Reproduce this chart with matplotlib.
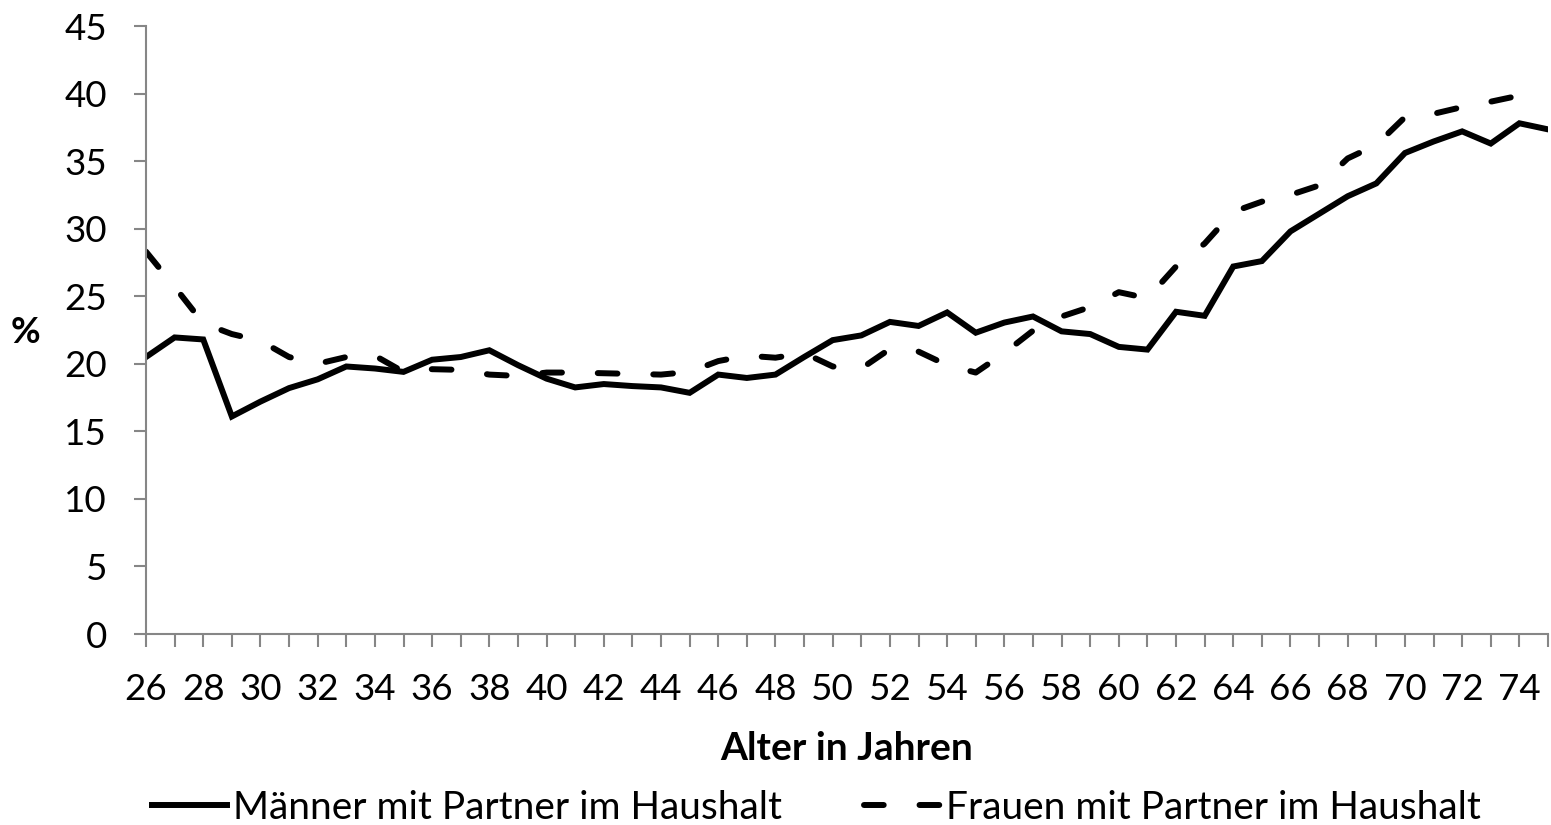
import numpy as np
import matplotlib
matplotlib.use('Agg')
import matplotlib.pyplot as plt

plt.rcParams['font.family'] = ['Lato', 'DejaVu Sans']

ages = list(range(26, 76))

maenner = [20.5, 21.95, 21.8, 16.1, 17.2, 18.2, 18.85, 19.8, 19.65, 19.4,
           20.3, 20.5, 21.0, 19.9, 18.9, 18.25, 18.5, 18.35, 18.25, 17.85,
           19.2, 18.95, 19.2, 20.5, 21.75, 22.1, 23.1, 22.8, 23.8, 22.3,
           23.05, 23.5, 22.4, 22.2, 21.25, 21.05, 23.85, 23.55, 27.2, 27.6,
           29.8, 31.1, 32.4, 33.35, 35.6, 36.45, 37.2, 36.3, 37.8, 37.35]

frauen = [28.3, 25.7, 23.0, 22.2, 21.7, 20.5, 20.0, 20.5, 20.6, 19.4,
          19.6, 19.55, 19.2, 19.1, 19.35, 19.35, 19.3, 19.25, 19.2, 19.4,
          20.2, 20.6, 20.45, 20.8, 19.8, 19.65, 21.1, 20.9, 19.9, 19.35,
          20.8, 22.45, 23.5, 24.2, 25.3, 24.85, 27.2, 28.9, 31.25, 32.0,
          32.5, 33.2, 35.2, 36.2, 38.25, 38.5, 39.0, 39.4, 39.85, np.nan]

fig = plt.figure(figsize=(15.51, 8.25), dpi=100)
ax = fig.add_axes([146 / 1551, 1 - 634 / 825, (1548 - 146) / 1551, (634 - 26) / 825])

ax.plot(ages, maenner, color='black', lw=4.3, solid_joinstyle='miter',
        label='Männer mit Partner im Haushalt')
ax.plot(ages, frauen, color='black', lw=4.3, linestyle=(0, (3.3, 6.0)),
        dash_capstyle='round', label='Frauen mit Partner im Haushalt')

ax.set_xlim(26, 75)
ax.set_ylim(0, 45)
ax.set_yticks(range(0, 46, 5))
ax.set_xticks(ages, minor=True)
ax.set_xticks(range(26, 75, 2))

grey = '#868686'
for side in ['top', 'right']:
    ax.spines[side].set_visible(False)
for side in ['left', 'bottom']:
    ax.spines[side].set_color(grey)
    ax.spines[side].set_linewidth(1.5)

ax.tick_params(axis='both', which='both', color=grey, width=1.5, length=9,
               labelsize=26.5, direction='out')
ax.tick_params(axis='x', which='major', pad=19)
ax.tick_params(axis='y', pad=19)

ax.set_xlabel('Alter in Jahren', fontsize=28, fontweight='bold', labelpad=18)
fig.text(25 / 1551, 1 - 333 / 825, '%', fontsize=26, fontweight='bold',
         ha='center', va='center')

fig.legend(loc='center', bbox_to_anchor=(816 / 1551, 17 / 825), ncol=2, frameon=False,
           fontsize=28, handlelength=1.95, handletextpad=0.15, columnspacing=2.1,
           borderaxespad=0, borderpad=0)

fig.savefig('out.png', dpi=100)
